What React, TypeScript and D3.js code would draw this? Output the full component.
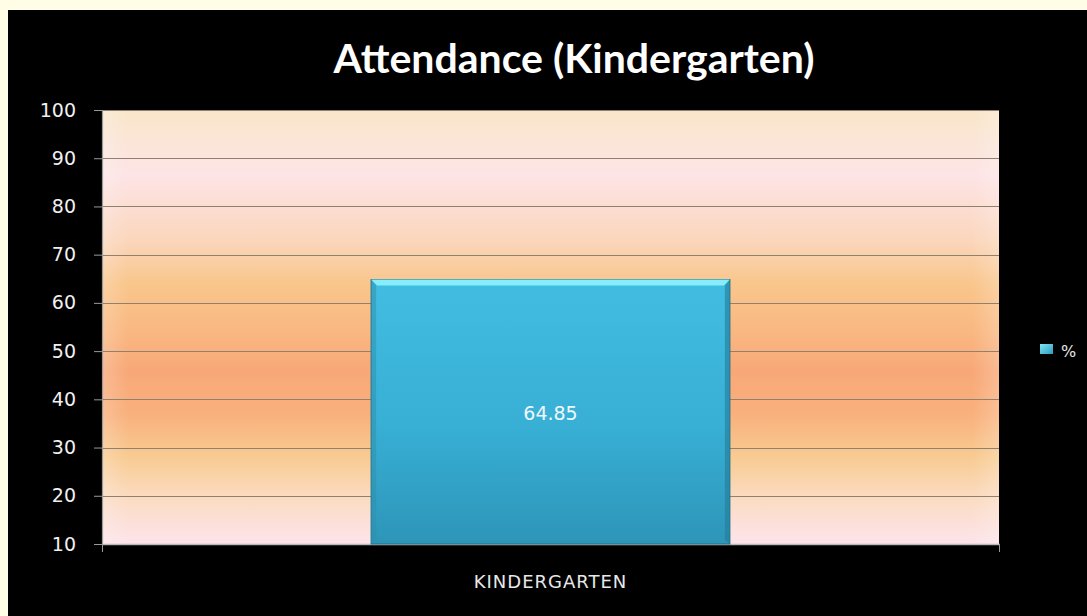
import { useEffect, useRef } from 'react'
import * as d3 from 'd3'

const categories = ['KINDERGARTEN']
const values = [64.85]
const seriesName = '%'
const yTicks = [10, 20, 30, 40, 50, 60, 70, 80, 90, 100]
const title = 'Attendance (Kindergarten)'

const App = () => {
  const svgRef = useRef<SVGSVGElement>(null)

  useEffect(() => {
    if (!svgRef.current) return
    const width = 1087
    const height = 616
    const plot = { left: 102, right: 999, top: 110, bottom: 544 }

    const svg = d3.select(svgRef.current)
    svg.selectAll('*').remove()
    svg.attr('width', width).attr('height', height)

    const defs = svg.append('defs')

    // plot background gradient (peach / pink / orange bands)
    const bg = defs.append('linearGradient').attr('id', 'bg').attr('x1', 0).attr('y1', 0).attr('x2', 0).attr('y2', 1)
    const bgStops: [number, string][] = [
      [0, '#f9e6c9'],
      [0.15, '#fde4e6'],
      [0.3, '#fbd6bc'],
      [0.4, '#f9c68c'],
      [0.52, '#f9b680'],
      [0.6, '#f8a878'],
      [0.7, '#f9b07c'],
      [0.8, '#f8cb92'],
      [0.9, '#fbdcc4'],
      [1, '#fde4ec']
    ]
    bgStops.forEach(([o, c]) => bg.append('stop').attr('offset', o).attr('stop-color', c))

    const side = defs.append('linearGradient').attr('id', 'side').attr('x1', 0).attr('y1', 0).attr('x2', 1).attr('y2', 0)
    side.append('stop').attr('offset', 0).attr('stop-color', '#fff').attr('stop-opacity', 0.2)
    side.append('stop').attr('offset', 0.03).attr('stop-color', '#fff').attr('stop-opacity', 0)
    side.append('stop').attr('offset', 0.97).attr('stop-color', '#fff').attr('stop-opacity', 0)
    side.append('stop').attr('offset', 1).attr('stop-color', '#fff').attr('stop-opacity', 0.2)

    const barGrad = defs.append('linearGradient').attr('id', 'bar').attr('x1', 0).attr('y1', 0).attr('x2', 0).attr('y2', 1)
    barGrad.append('stop').attr('offset', 0).attr('stop-color', '#42bde2')
    barGrad.append('stop').attr('offset', 0.55).attr('stop-color', '#38afd5')
    barGrad.append('stop').attr('offset', 1).attr('stop-color', '#2d95b8')

    const legGrad = defs.append('linearGradient').attr('id', 'leg').attr('x1', 0).attr('y1', 0).attr('x2', 1).attr('y2', 1)
    legGrad.append('stop').attr('offset', 0).attr('stop-color', '#7fe6f6')
    legGrad.append('stop').attr('offset', 1).attr('stop-color', '#2d9cc0')

    // page background + black chart panel
    svg.append('rect').attr('width', width).attr('height', height).attr('fill', '#fffde6')
    svg.append('rect').attr('x', 8).attr('y', 10).attr('width', width - 8).attr('height', height - 10).attr('fill', '#000')

    const y = d3.scaleLinear().domain([10, 100]).range([plot.bottom, plot.top])
    const x = d3.scaleBand().domain(categories).range([plot.left, plot.right]).paddingInner(0.6).paddingOuter(0.3)

    svg.append('rect')
      .attr('x', plot.left).attr('y', plot.top)
      .attr('width', plot.right - plot.left).attr('height', plot.bottom - plot.top)
      .attr('fill', 'url(#bg)')
    svg.append('rect')
      .attr('x', plot.left).attr('y', plot.top)
      .attr('width', plot.right - plot.left).attr('height', plot.bottom - plot.top)
      .attr('fill', 'url(#side)')

    // gridlines
    svg.append('g')
      .selectAll('line')
      .data(yTicks.filter(t => t > 10))
      .enter()
      .append('line')
      .attr('x1', plot.left)
      .attr('x2', plot.right)
      .attr('y1', d => Math.round(y(d)) + 0.5)
      .attr('y2', d => Math.round(y(d)) + 0.5)
      .attr('stroke', '#8f8070')
      .attr('stroke-width', 1.2)

    // y axis
    const yAxis = d3.axisLeft(y).tickValues(yTicks).tickSize(8).tickPadding(18)
    const ya = svg.append('g').attr('transform', `translate(${plot.left},0)`).call(yAxis)
    ya.select('.domain').attr('stroke', '#9a9a9a').attr('stroke-width', 1.2)
    ya.selectAll('.tick line').attr('stroke', '#9a9a9a')
    ya.selectAll('text')
      .attr('fill', '#f0f0f0')
      .attr('font-size', '19px')
      .attr('font-family', 'DejaVu Sans, sans-serif')

    // x axis baseline
    svg.append('line')
      .attr('x1', plot.left).attr('x2', plot.right + 1)
      .attr('y1', plot.bottom + 0.5).attr('y2', plot.bottom + 0.5)
      .attr('stroke', '#b8b8b8').attr('stroke-width', 1.5)
    svg.append('line')
      .attr('x1', plot.right + 0.5).attr('x2', plot.right + 0.5)
      .attr('y1', plot.bottom).attr('y2', plot.bottom + 8)
      .attr('stroke', '#9a9a9a')
    svg.append('line')
      .attr('x1', plot.left + 0.5).attr('x2', plot.left + 0.5)
      .attr('y1', plot.bottom).attr('y2', plot.bottom + 8)
      .attr('stroke', '#9a9a9a')

    // bars
    const bars = svg.append('g')
      .selectAll('g')
      .data(values.map((v, i) => ({ v, c: categories[i] })))
      .enter()
      .append('g')

    bars.append('rect')
      .attr('x', d => x(d.c)!)
      .attr('y', d => y(d.v))
      .attr('width', x.bandwidth())
      .attr('height', d => plot.bottom - y(d.v))
      .attr('fill', 'url(#bar)')
      .attr('stroke', '#1f6e88')
      .attr('stroke-width', 1)

    // top bevel
    bars.append('path')
      .attr('d', d => {
        const x0 = x(d.c)!, x1 = x0 + x.bandwidth(), y0 = y(d.v)
        return `M${x0},${y0} L${x1},${y0} L${x1 - 6},${y0 + 6} L${x0 + 6},${y0 + 6} Z`
      })
      .attr('fill', '#86eefb')
    // side bevels
    bars.append('path')
      .attr('d', d => {
        const x0 = x(d.c)!, y0 = y(d.v)
        return `M${x0},${y0} L${x0 + 5},${y0 + 6} L${x0 + 5},${plot.bottom - 4} L${x0},${plot.bottom} Z`
      })
      .attr('fill', '#2b8fae')
      .attr('opacity', 0.5)
    bars.append('path')
      .attr('d', d => {
        const x1 = x(d.c)! + x.bandwidth(), y0 = y(d.v)
        return `M${x1},${y0} L${x1 - 5},${y0 + 6} L${x1 - 5},${plot.bottom - 4} L${x1},${plot.bottom} Z`
      })
      .attr('fill', '#237c99')
      .attr('opacity', 0.6)

    bars.append('text')
      .attr('x', d => x(d.c)! + x.bandwidth() / 2)
      .attr('y', 420)
      .attr('text-anchor', 'middle')
      .attr('fill', '#f0f8fa')
      .attr('font-size', '19px')
      .attr('font-family', 'DejaVu Sans, sans-serif')
      .text(d => d.v.toFixed(2))

    // category labels
    svg.append('g')
      .selectAll('text')
      .data(categories)
      .enter()
      .append('text')
      .attr('x', d => x(d)! + x.bandwidth() / 2)
      .attr('y', 588)
      .attr('text-anchor', 'middle')
      .attr('fill', '#e8e8e8')
      .attr('font-size', '18px')
      .attr('letter-spacing', '1px')
      .attr('font-family', 'DejaVu Sans, sans-serif')
      .text(d => d)

    // title
    svg.append('text')
      .attr('x', 574)
      .attr('y', 73)
      .attr('text-anchor', 'middle')
      .attr('fill', '#ffffff')
      .attr('font-size', '41px')
      .attr('font-weight', 'bold')
      .attr('font-family', 'Lato, sans-serif')
      .text(title)

    // legend
    svg.append('rect')
      .attr('x', 1040).attr('y', 344).attr('width', 13).attr('height', 10)
      .attr('fill', 'url(#leg)')
    svg.append('text')
      .attr('x', 1061).attr('y', 357)
      .attr('fill', '#e8e8e8')
      .attr('font-size', '16px')
      .attr('font-family', 'DejaVu Sans, sans-serif')
      .text(seriesName)
  }, [])

  return (
    <div style={{ position: 'absolute', left: 0, top: 0 }}>
      <svg ref={svgRef} style={{ display: 'block' }}></svg>
    </div>
  )
}

export default App
